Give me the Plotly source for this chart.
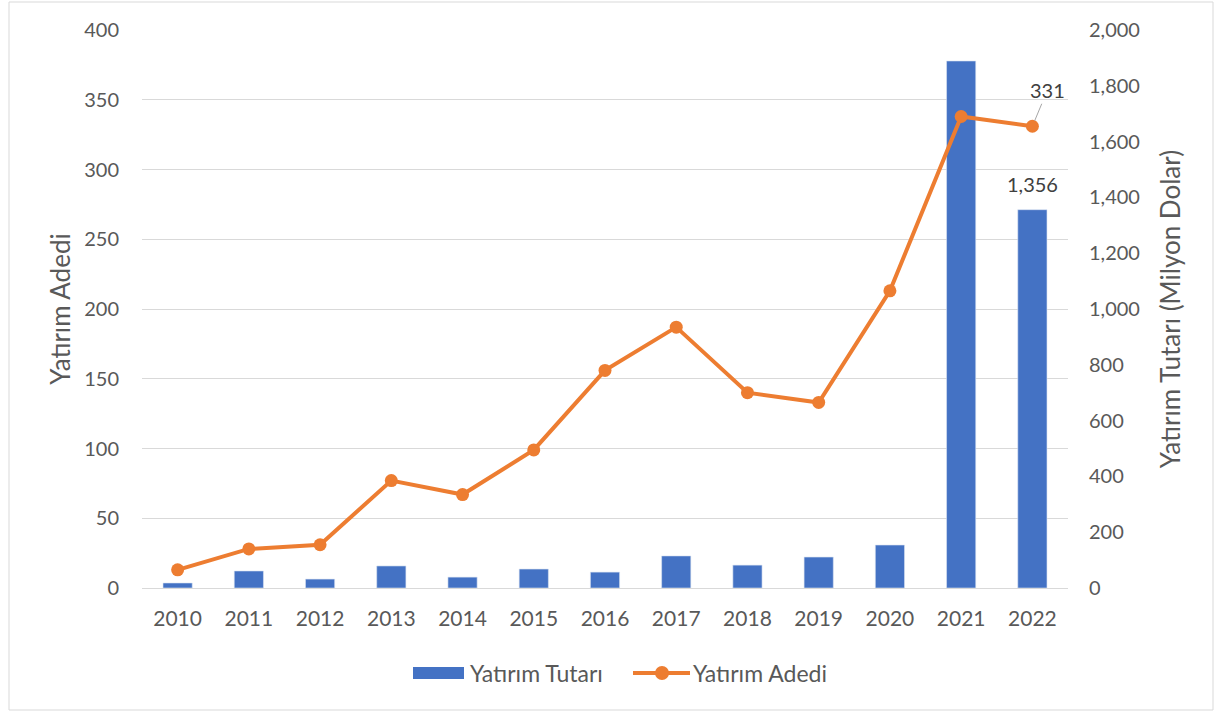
import plotly.graph_objects as go

# Data
years = ["2010", "2011", "2012", "2013", "2014", "2015", "2016",
         "2017", "2018", "2019", "2020", "2021", "2022"]
tutar = [18, 61, 32, 79, 39, 68, 57, 115, 82, 111, 154, 1889, 1356]   # Milyon Dolar
adet = [13, 28, 31, 77, 67, 99, 156, 187, 140, 133, 213, 338, 331]

blue = "#4472C4"
orange = "#ED7D31"
txt = "#595959"
grid = "#D9D9D9"
font = "Lato"
fs = 20

# plot area in pixels (used to place the hand drawn legend and border)
W, H = 1215, 713
L, R, T, B = 142, 147, 30, 125
PW, PH = W - L - R, H - T - B


def px(x):
    return (x - L) / PW


def py(y):
    return (H - B - y) / PH


fig = go.Figure()

# bars on the primary axis so the line is drawn above them
fig.add_trace(go.Bar(
    x=years, y=tutar, name="Yatırım Tutarı",
    marker=dict(color=blue, line=dict(color="#DCE4F2", width=0.6)),
    yaxis="y"
))

fig.add_trace(go.Scatter(
    x=years, y=adet, name="Yatırım Adedi",
    mode="lines+markers",
    line=dict(color=orange, width=4),
    marker=dict(color=orange, size=13),
    yaxis="y2"
))

# data labels for the last year (category axis -> use the index)
last = len(years) - 1
fig.add_annotation(
    x=last, y=tutar[-1], xref="x", yref="y",
    text=f"{tutar[-1]:,}", showarrow=False,
    yanchor="bottom", yshift=12,
    font=dict(family=font, size=fs, color="#404040")
)
fig.add_annotation(
    x=last, y=adet[-1], xref="x", yref="y2",
    text=str(adet[-1]), showarrow=True,
    arrowhead=0, arrowwidth=1, arrowcolor="#A6A6A6",
    ax=15, ay=-36, standoff=6,
    font=dict(family=font, size=fs, color="#404040")
)

# outer chart border
fig.add_shape(
    type="rect", xref="paper", yref="paper",
    x0=px(9), x1=px(1213), y0=py(710), y1=py(2),
    line=dict(color="#D9D9D9", width=1), fillcolor="rgba(0,0,0,0)",
    layer="below"
)

# legend drawn like the original (wide bar swatch, line with marker)
lg_y = 673
fig.add_shape(type="rect", xref="paper", yref="paper",
              x0=px(413), x1=px(464), y0=py(679), y1=py(667),
              fillcolor=blue, line=dict(width=0))
fig.add_shape(type="line", xref="paper", yref="paper",
              x0=px(633), x1=px(690), y0=py(lg_y), y1=py(lg_y),
              line=dict(color=orange, width=4))
fig.add_shape(type="circle", xref="paper", yref="paper",
              xsizemode="pixel", ysizemode="pixel",
              xanchor=px(662), yanchor=py(lg_y),
              x0=-7, x1=7, y0=-7, y1=7,
              fillcolor=orange, line=dict(width=0))
for name, x0 in [("Yatırım Tutarı", 468), ("Yatırım Adedi", 691)]:
    fig.add_annotation(
        x=px(x0), y=py(lg_y), xref="paper", yref="paper",
        text=name, showarrow=False, xanchor="left", yanchor="middle",
        font=dict(family=font, size=23, color=txt)
    )

fig.update_layout(
    width=W, height=H,
    margin=dict(l=L, r=R, t=T, b=B),
    paper_bgcolor="white", plot_bgcolor="white",
    font=dict(family=font, size=fs, color=txt),
    bargap=0.59,
    showlegend=False,
    xaxis=dict(
        type="category", range=[-0.5, last + 0.5], autorange=False,
        showgrid=False, showline=True, linecolor=grid, linewidth=1,
        ticks="", ticklabelstandoff=12, tickfont=dict(size=21, color=txt)
    ),
    yaxis=dict(
        side="right", range=[0, 2000], dtick=200, tickformat=",",
        showgrid=False, zeroline=False, ticks="",
        ticklabelstandoff=20,
        title=dict(text="Yatırım Tutarı (Milyon Dolar)", standoff=22,
                   font=dict(size=26, color=txt)),
        tickfont=dict(size=fs, color=txt)
    ),
    yaxis2=dict(
        overlaying="y", side="left", range=[0, 400], dtick=50,
        showgrid=True, gridcolor=grid, gridwidth=1, zeroline=False, ticks="",
        ticklabelstandoff=22,
        title=dict(text="Yatırım Adedi", standoff=6,
                   font=dict(size=26, color=txt)),
        tickfont=dict(size=fs, color=txt)
    ),
)

# page without the default body margin so the chart sits at (0, 0)
fig.write_html("out.html",
               config={"displayModeBar": False},
               post_script="document.body.style.margin='0';")
